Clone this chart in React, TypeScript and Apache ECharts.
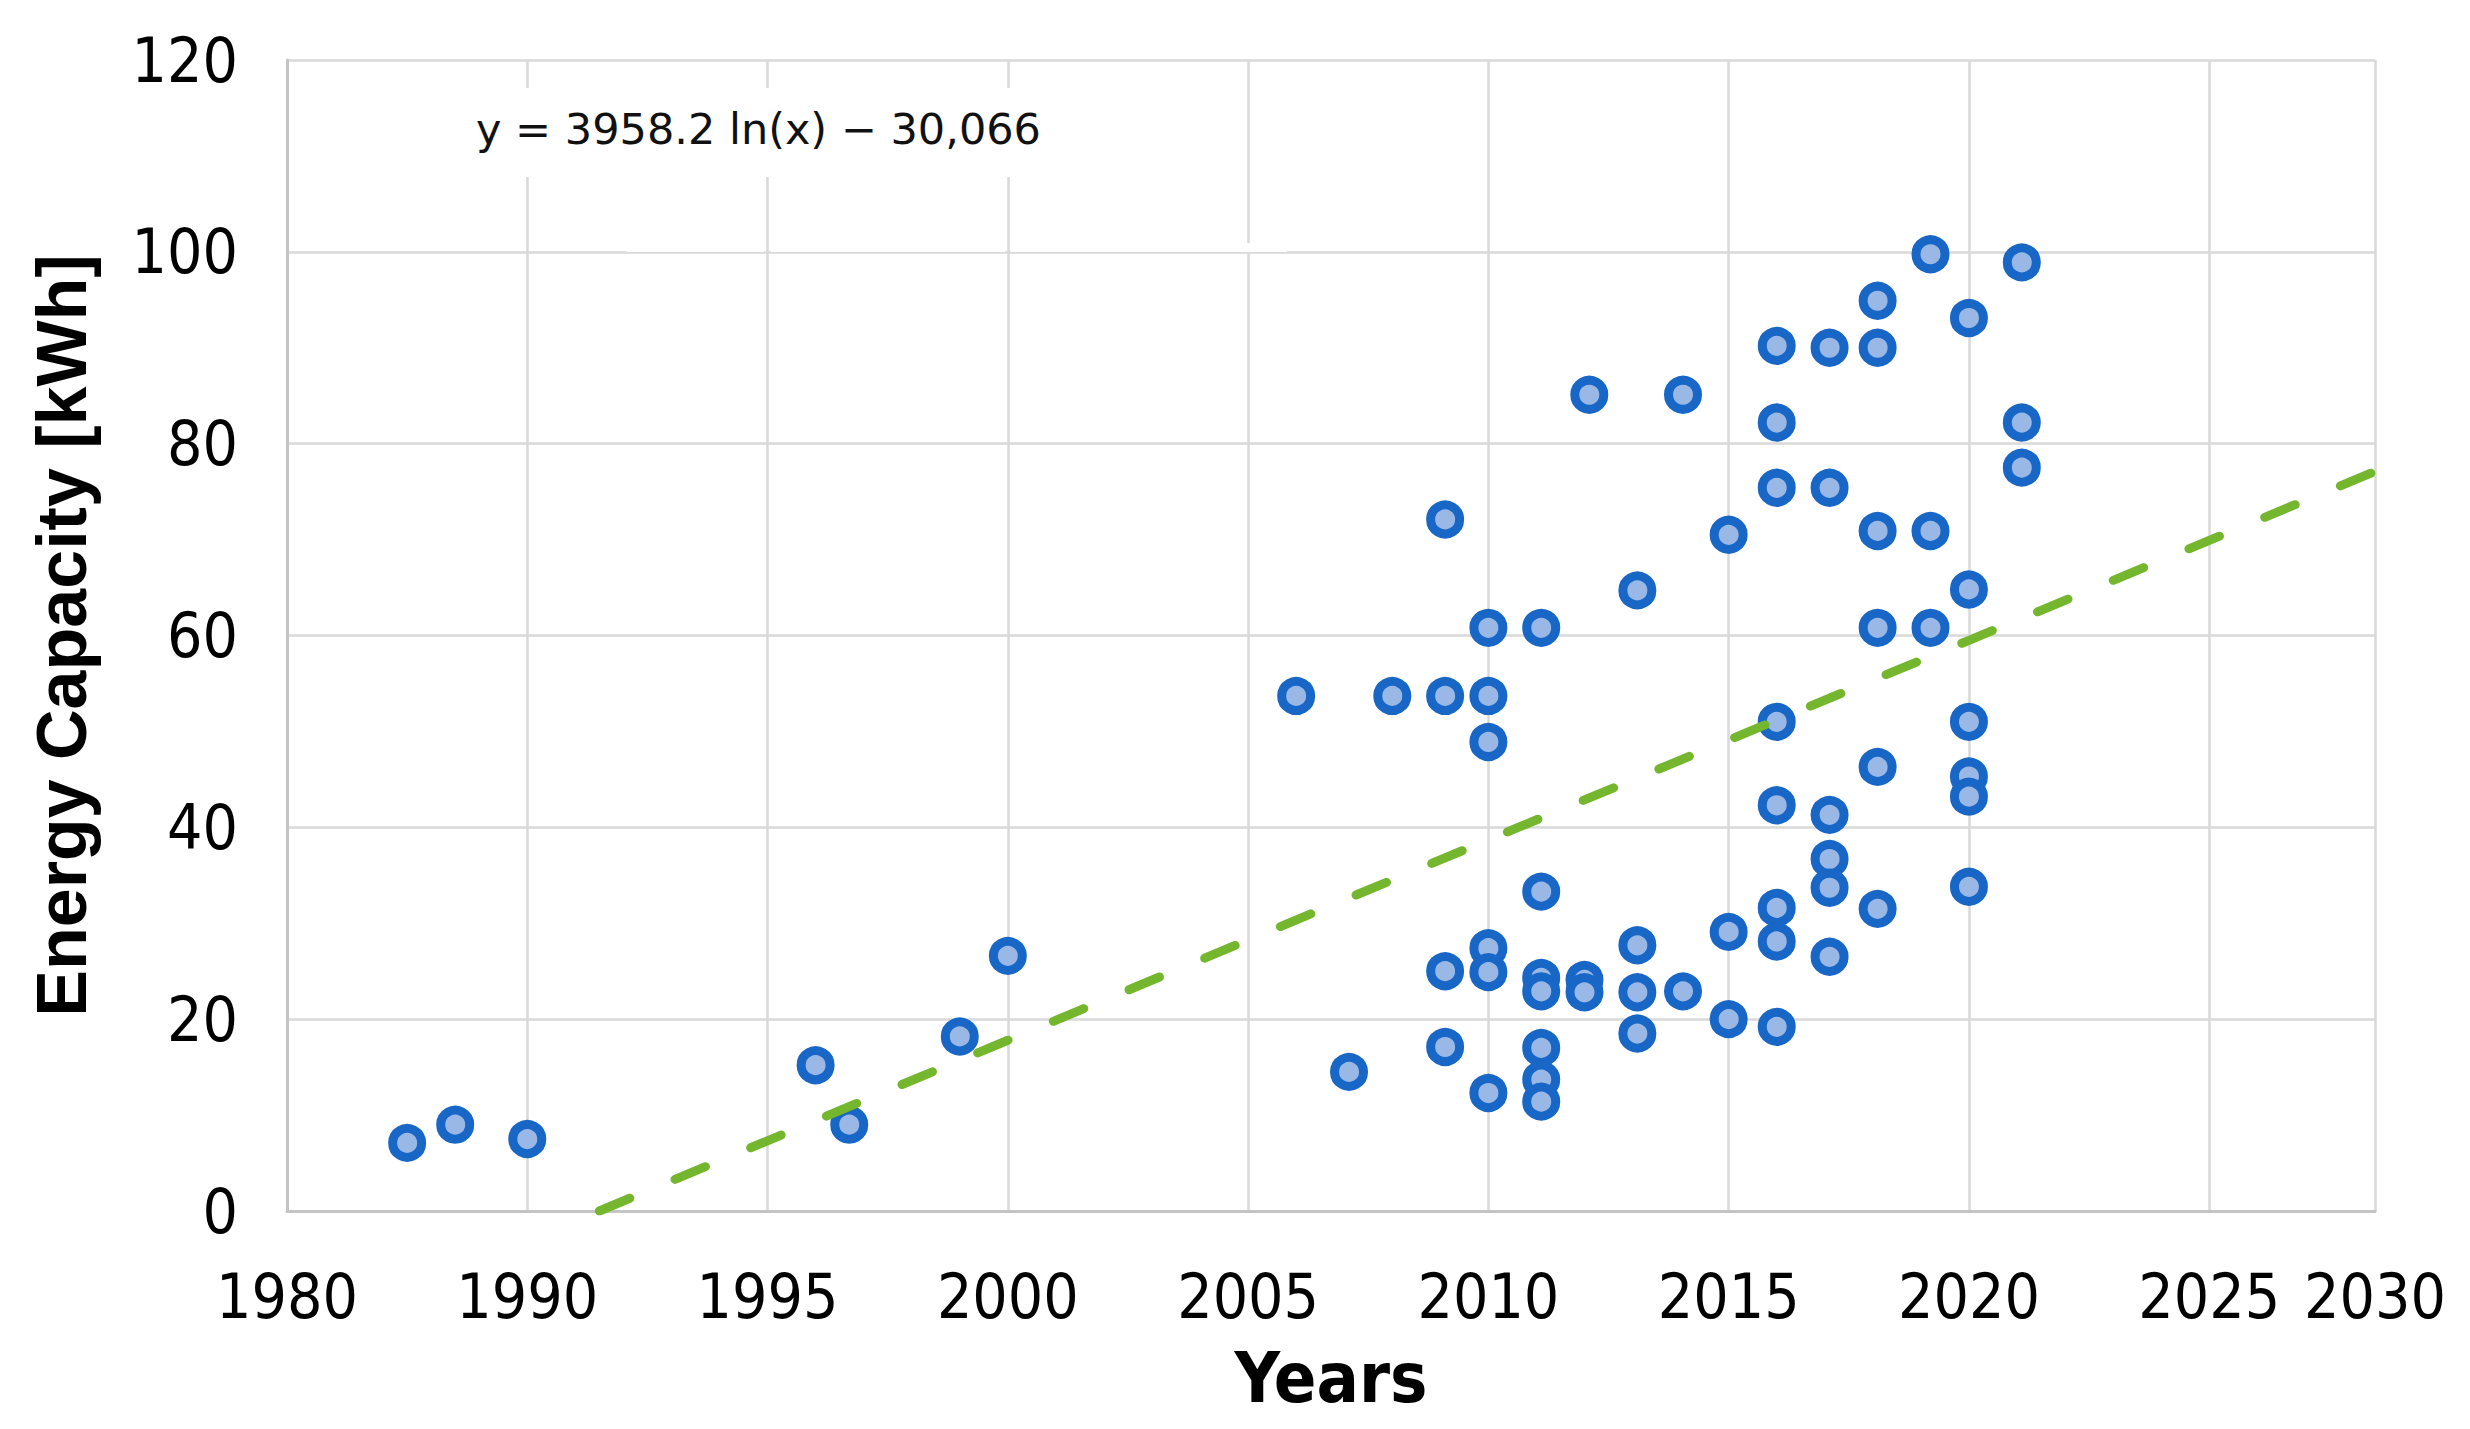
import React, { useEffect, useRef } from "react";
import * as echarts from "echarts";

// Scatter data: year of each battery pack and its energy capacity (kWh)
const years = [
  1987.5, 1988.5, 1990.0, 1996.0, 1996.7, 1999.0, 2000.0, 2006.0, 2007.1, 2008.0,
  2009.1, 2009.1, 2009.1, 2009.1,
  2010.0, 2010.0, 2010.0, 2010.0, 2010.0, 2010.0,
  2011.1, 2011.1, 2011.1, 2011.1, 2011.1, 2011.1, 2011.1,
  2012.1, 2012.0, 2012.0,
  2013.1, 2013.1, 2013.1, 2013.1,
  2014.05, 2014.05,
  2015.0, 2015.0, 2015.0,
  2016.0, 2016.0, 2016.0, 2016.0, 2016.0, 2016.0, 2016.0, 2016.0,
  2017.1, 2017.1, 2017.1, 2017.1, 2017.1, 2017.1,
  2018.1, 2018.1, 2018.1, 2018.1, 2018.1, 2018.1,
  2019.2, 2019.2, 2019.2,
  2020.0, 2020.0, 2020.0, 2020.0, 2020.0, 2020.0,
  2021.1, 2021.1, 2021.1,
];
const capacity = [
  7.1, 9.0, 7.5, 15.2, 9.0, 18.2, 26.6, 53.7, 14.5, 53.7,
  72.1, 53.7, 25.0, 17.1,
  60.8, 53.7, 48.9, 27.4, 24.9, 12.3,
  60.8, 33.3, 24.3, 22.9, 17.0, 13.7, 11.4,
  85.1, 24.1, 22.8,
  64.7, 27.7, 22.8, 18.5,
  85.1, 22.9,
  70.5, 29.1, 20.0,
  90.2, 82.2, 75.4, 51.0, 42.3, 31.6, 28.1, 19.2,
  90.0, 75.4, 41.3, 36.7, 33.7, 26.5,
  94.9, 90.0, 70.9, 60.8, 46.3, 31.5,
  99.75, 70.9, 60.8,
  93.1, 64.8, 51.0, 45.3, 43.2, 33.8,
  98.9, 82.2, 77.5,
];

// Logarithmic trendline
const trendYears = [1991.5, 2000, 2010, 2020, 2028.45];
const trendValues = [0, 17.8, 38.7, 59.5, 77.1];
const equationText = "y = 3958.2 ln(x) \u2212 30,066";

// Axis ticks and the labels printed under them
const xMin = 1985;
const xMax = 2028.45;
const xTickValues = [1985, 1990, 1995, 2000, 2005, 2010, 2015, 2020, 2025, 2028.45];
const xTickLabels = ["1980", "1990", "1995", "2000", "2005", "2010", "2015", "2020", "2025", "2030"];
const yMin = 0;
const yMax = 120;
const yStep = 20;

const tickFont = '"Liberation Sans Narrow", "DejaVu Sans Condensed", sans-serif';
const titleFont = '"Liberation Sans", Arial, sans-serif';

export default function App() {
  const ref = useRef<HTMLDivElement>(null);

  useEffect(() => {
    document.body.style.margin = "0";
    const chart = echarts.init(ref.current as HTMLDivElement, null, { renderer: "svg" });

    const scatterData = years.map((x, i) => [x, capacity[i]]);
    const trendData = trendYears.map((x, i) => [x, trendValues[i]]);

    chart.setOption({
      animation: false,
      backgroundColor: "#ffffff",
      grid: { left: 287, top: 60, width: 2088, height: 1151, containLabel: false },
      xAxis: {
        type: "value",
        min: xMin,
        max: xMax,
        interval: 5,
        axisLine: { show: true, lineStyle: { color: "#c4c4c4", width: 3 } },
        axisTick: { show: false },
        splitLine: { show: true, lineStyle: { color: "#d9d9d9", width: 2.5 } },
        axisLabel: {
          showMinLabel: true,
          showMaxLabel: true,
          margin: 54,
          color: "#000",
          fontFamily: tickFont,
          fontSize: 62,
          formatter: (v: number) => {
            let best = 0;
            for (let i = 1; i < xTickValues.length; i++) {
              if (Math.abs(xTickValues[i] - v) < Math.abs(xTickValues[best] - v)) best = i;
            }
            return xTickLabels[best];
          },
        },
        name: "Years",
        nameLocation: "middle",
        nameGap: 132,
        nameTextStyle: { color: "#000", fontFamily: tickFont, fontWeight: "bold", fontSize: 70 },
      },
      yAxis: {
        type: "value",
        min: yMin,
        max: yMax,
        interval: yStep,
        axisLine: { show: true, lineStyle: { color: "#c4c4c4", width: 3 } },
        axisTick: { show: false },
        splitLine: { show: true, lineStyle: { color: "#d9d9d9", width: 2.5 } },
        axisLabel: { margin: 49, color: "#000", fontFamily: tickFont, fontSize: 62 },
        name: "Energy Capacity [kWh]",
        nameLocation: "middle",
        nameRotate: 90,
        nameGap: 190,
        nameTextStyle: { color: "#000", fontFamily: titleFont, fontWeight: "bold", fontSize: 70 },
      },
      graphic: [
        { type: "rect", z: 1, silent: true, shape: { x: 455, y: 88, width: 640, height: 89 }, style: { fill: "#ffffff" } },
        { type: "rect", z: 1, silent: true, shape: { x: 627, y: 243, width: 137, height: 9 }, style: { fill: "#ffffff" } },
        { type: "rect", z: 1, silent: true, shape: { x: 771, y: 243, width: 234, height: 9 }, style: { fill: "#ffffff" } },
        { type: "rect", z: 1, silent: true, shape: { x: 1011, y: 243, width: 276, height: 9 }, style: { fill: "#ffffff" } },
        {
          type: "text",
          z: 5,
          x: 476,
          y: 129,
          style: {
            text: equationText,
            fontSize: 43,
            fontFamily: '"DejaVu Sans", sans-serif',
            fill: "#111",
            align: "left",
            verticalAlign: "middle",
          },
        },
      ],
      series: [
        {
          type: "scatter",
          z: 2,
          data: scatterData,
          symbol: "circle",
          symbolSize: 29,
          itemStyle: { color: "#9ab8e6", borderColor: "#1866c6", borderWidth: 9, opacity: 1 },
          silent: true,
        },
        {
          type: "line",
          z: 3,
          data: trendData,
          symbol: "none",
          smooth: false,
          clip: true,
          silent: true,
          lineStyle: { color: "#74b72e", width: 9, type: [33, 49], cap: "round" },
        },
      ],
    });

    return () => chart.dispose();
  }, []);

  return <div ref={ref} style={{ width: 2470, height: 1429, background: "#fff" }} />;
}
